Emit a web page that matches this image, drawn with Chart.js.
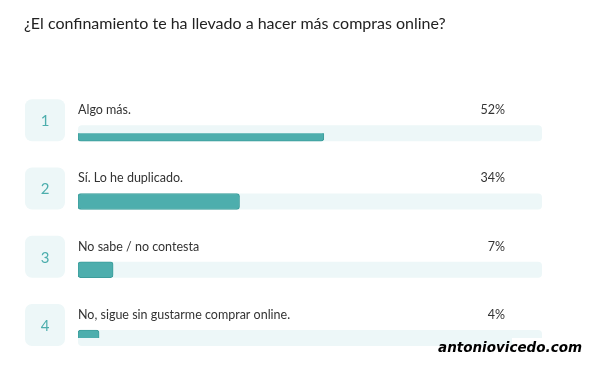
<!DOCTYPE html>
<html>
<head>
<meta charset="utf-8">
<script src="https://cdn.jsdelivr.net/npm/chart.js@4.4.0/dist/chart.umd.min.js"></script>
<style>
  html, body { margin: 0; padding: 0; background: #fff; }
  #wrap { width: 600px; height: 369px; position: relative; }
</style>
</head>
<body>
<div id="wrap"><canvas id="chart" width="600" height="369"></canvas></div>
<script>
// data
const titleText = '¿El confinamiento te ha llevado a hacer más compras online?';
const answers = ['Algo más.', 'Sí. Lo he duplicado.', 'No sabe / no contesta', 'No, sigue sin gustarme comprar online.'];
const percents = [52, 34, 7, 4];
const watermark = 'antoniovicedo.com';

const teal = '#4daead';
const tealBorder = '#3d9e9c';
const pale = '#edf7f8';
const labelFont = '12.5px Lato, "Noto Sans", sans-serif';

// pale track behind every bar, full width of the chart area
const tracks = {
  id: 'tracks',
  beforeDatasetsDraw(chart) {
    const ctx = chart.ctx;
    const y = chart.scales.y;
    const area = chart.chartArea;
    ctx.save();
    ctx.fillStyle = pale;
    answers.forEach((txt, i) => {
      const cy = y.getPixelForValue(i);
      ctx.beginPath();
      ctx.roundRect(area.left, cy - 8, area.right - area.left, 16, 4);
      ctx.fill();
    });
    ctx.restore();
  }
};

// number boxes, answer text and percentages around each bar
const rowLabels = {
  id: 'rowLabels',
  afterDatasetsDraw(chart) {
    const ctx = chart.ctx;
    const y = chart.scales.y;
    const area = chart.chartArea;
    ctx.save();
    answers.forEach((txt, i) => {
      const cy = y.getPixelForValue(i);
      ctx.fillStyle = pale;
      ctx.beginPath();
      ctx.roundRect(25, cy - 34, 40, 42, 7);
      ctx.fill();
      ctx.fillStyle = teal;
      ctx.font = '15px Lato, "Noto Sans", sans-serif';
      ctx.textAlign = 'center';
      ctx.textBaseline = 'middle';
      ctx.fillText(String(i + 1), 45, cy - 12);

      ctx.fillStyle = '#333';
      ctx.font = labelFont;
      ctx.textAlign = 'left';
      ctx.textBaseline = 'alphabetic';
      ctx.fillText(txt, area.left, cy - 19);
      ctx.textAlign = 'right';
      ctx.fillText(percents[i] + '%', 505, cy - 19);
    });
    // watermark and the white patch under it
    ctx.fillStyle = '#fff';
    ctx.fillRect(512, 338, 88, 31);
    ctx.fillStyle = '#000';
    ctx.font = 'italic bold 13.5px "DejaVu Sans", sans-serif';
    ctx.textAlign = 'right';
    ctx.fillText(watermark, 582, 352);
    ctx.restore();
  }
};

new Chart(document.getElementById('chart'), {
  type: 'bar',
  data: {
    labels: answers,
    datasets: [{
      data: percents,
      base: -0.5,
      backgroundColor: teal,
      borderColor: tealBorder,
      borderWidth: 1,
      borderRadius: 3,
      borderSkipped: false,
      barThickness: 16
    }]
  },
  options: {
    indexAxis: 'y',
    responsive: false,
    animation: false,
    layout: { padding: { left: 24, right: 58, top: 0, bottom: 31 } },
    scales: {
      x: { display: false, min: -0.5, max: 98.6 },
      y: {
        offset: false,
        grid: { display: false },
        border: { display: false },
        ticks: { display: false },
        afterFit(scale) { scale.width = 54; }
      }
    },
    plugins: {
      legend: { display: false },
      tooltip: { enabled: false },
      title: {
        display: true,
        text: titleText,
        align: 'start',
        color: '#222',
        font: { family: 'Lato, "Noto Sans", sans-serif', size: 16, weight: 'normal' },
        padding: { top: 14, bottom: 100 }
      }
    }
  },
  plugins: [tracks, rowLabels]
});
</script>
</body>
</html>
